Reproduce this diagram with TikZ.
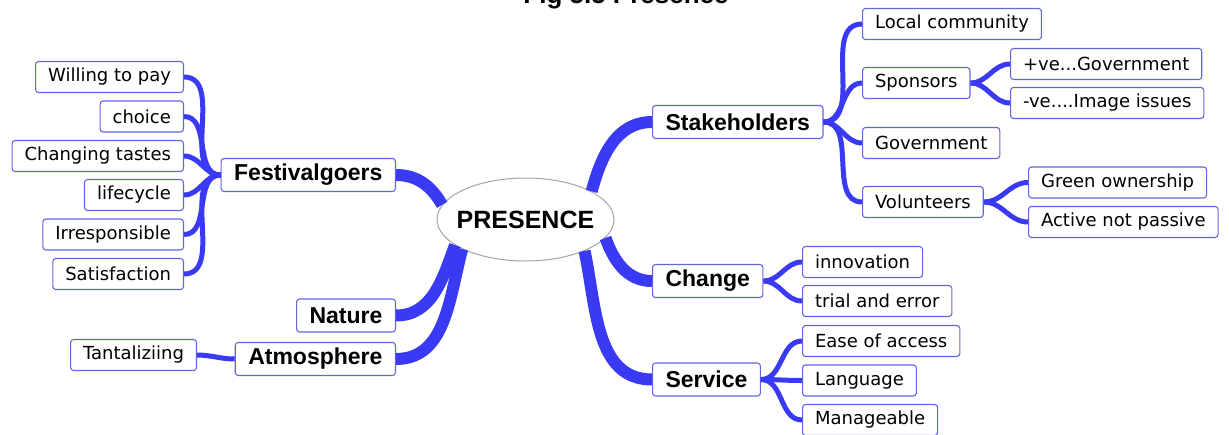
\documentclass[tikz,border=0pt]{standalone}
\usepackage{fontspec}
\setmainfont{DejaVu Sans}
\newfontfamily\headfont{Liberation Sans}
\usetikzlibrary{shapes.geometric}

\definecolor{linkblue}{RGB}{58,58,245}
\definecolor{boxblue}{RGB}{100,100,220}
\definecolor{rimgray}{RGB}{165,165,165}

\tikzset{
  leaf/.style={draw=boxblue, line width=1.1pt, rounded corners=3pt, fill=white,
    minimum height=31pt, inner xsep=12.5pt, font=\fontsize{18}{20}\selectfont},
  topic/.style={leaf, minimum height=33pt, inner xsep=13pt,
    font=\headfont\bfseries\fontsize{23}{25}\selectfont},
  trunk/.style={draw=linkblue, line width=12pt},
  twig/.style={draw=linkblue, line width=5pt},
}

\begin{document}
\begin{tikzpicture}[x=1pt, y=-1pt]
  \clip (0,0) rectangle (1229,434);
  \fill[white] (0,0) rectangle (1229,434);

  % title, cut by the top edge
  \node[anchor=base, inner sep=0pt, font=\headfont\bfseries\fontsize{26}{28}\selectfont]
    (title) at (626,3) {Fig 5.5 Presence};

  % centre
  \node[ellipse, draw=rimgray, line width=1pt, fill=white,
    minimum width=177pt, minimum height=83pt, inner sep=0pt] (pres) at (525.5,219.5) {};
  \node[font=\headfont\bfseries\fontsize{25}{27}\selectfont] (preslabel) at (pres) {PRESENCE};

  % main topics
  \node[topic, anchor=east] (fest) at (396,175) {Festivalgoers};
  \node[topic, anchor=east] (nature) at (396,315.5) {Nature};
  \node[topic, anchor=east] (atmos) at (396,359) {Atmosphere};
  \node[topic, anchor=west] (stake) at (652,122) {Stakeholders};
  \node[topic, anchor=west] (change) at (652,281) {Change};
  \node[topic, anchor=west] (service) at (652,379.5) {Service};

  \draw[trunk] (fest.east) to[out=0,in=120] (pres.170);
  \draw[trunk] (nature.east) to[out=0,in=-110] (pres.200);
  \draw[trunk] (atmos.east) to[out=0,in=-105] (pres.205);
  \draw[trunk] (pres.23) to[out=75,in=180] (stake.west);
  \draw[trunk] (pres.-13) to[out=-70,in=180] (change.west);
  \draw[trunk] (pres.-28) to[out=-78,in=180] (service.west);

  % festivalgoers
  \foreach \n/\y/\t in {willing/77/Willing to pay, choice/116.5/choice,
      tastes/156/Changing tastes, cycle/195/lifecycle,
      irresp/234.5/Irresponsible, satisf/274/Satisfaction}{
    \node[leaf, anchor=east] (\n) at (184,\y) {\t};
    \draw[twig] (fest.west) to[out=180,in=0] (\n.east);
  }

  % atmosphere
  \node[leaf, anchor=east] (tantal) at (197,355) {Tantaliziing};
  \draw[twig] (atmos.west) to[out=180,in=0] (tantal.east);

  % stakeholders
  \node[leaf, anchor=west] (local) at (862,24) {Local community};
  \node[leaf, anchor=west] (sponsor) at (862,83) {Sponsors};
  \node[leaf, anchor=west] (govt) at (862,143) {Government};
  \node[leaf, anchor=west] (volunt) at (862,202) {Volunteers};
  \foreach \n in {local, sponsor, govt, volunt}
    \draw[twig] (stake.east) to[out=0,in=180] (\n.west);

  \node[leaf, anchor=west] (plusve) at (1010,64) {+ve...Government};
  \node[leaf, anchor=west] (minusve) at (1010,103) {-ve....Image issues};
  \draw[twig] (sponsor.east) to[out=0,in=180] (plusve.west);
  \draw[twig] (sponsor.east) to[out=0,in=180] (minusve.west);

  \node[leaf, anchor=west] (green) at (1028,182.5) {Green ownership};
  \node[leaf, anchor=west] (active) at (1028,222) {Active not passive};
  \draw[twig] (volunt.east) to[out=0,in=180] (green.west);
  \draw[twig] (volunt.east) to[out=0,in=180] (active.west);

  % change
  \node[leaf, anchor=west] (innov) at (802,262) {innovation};
  \node[leaf, anchor=west] (trial) at (802,301) {trial and error};
  \draw[twig] (change.east) to[out=0,in=180] (innov.west);
  \draw[twig] (change.east) to[out=0,in=180] (trial.west);

  % service
  \node[leaf, anchor=west] (ease) at (802,341) {Ease of access};
  \node[leaf, anchor=west] (lang) at (802,380.5) {Language};
  \node[leaf, anchor=west] (manage) at (802,420) {Manageable};
  \foreach \n in {ease, lang, manage}
    \draw[twig] (service.east) to[out=0,in=180] (\n.west);
\end{tikzpicture}
\end{document}
